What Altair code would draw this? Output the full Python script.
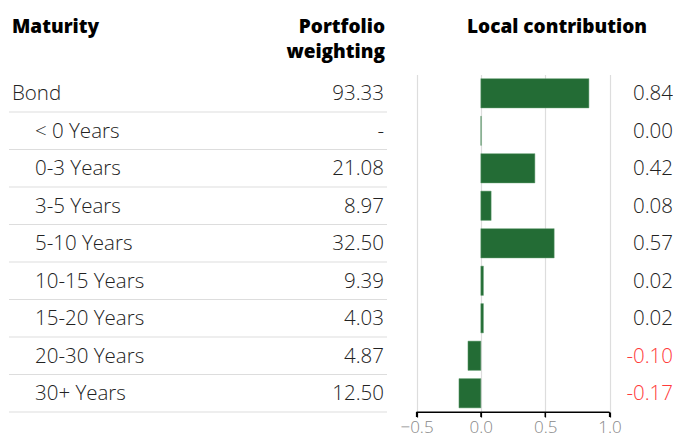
import altair as alt
import pandas as pd

maturity = ["Bond", "< 0 Years", "0-3 Years", "3-5 Years", "5-10 Years",
            "10-15 Years", "15-20 Years", "20-30 Years", "30+ Years"]
level = [0, 1, 1, 1, 1, 1, 1, 1, 1]
weighting = [93.33, None, 21.08, 8.97, 32.50, 9.39, 4.03, 4.87, 12.50]
contribution = [0.84, 0.003, 0.42, 0.08, 0.57, 0.02, 0.02, -0.10, -0.17]
contribution_labels = ["0.84", "0.00", "0.42", "0.08", "0.57", "0.02", "0.02", "-0.10", "-0.17"]
x_ticks = [-0.5, 0.0, 0.5, 1.0]

df = pd.DataFrame({
    "maturity": maturity,
    "level": level,
    "weight_label": ["-" if w is None else f"{w:.2f}" for w in weighting],
    "contribution": contribution,
    "contrib_label": contribution_labels,
    "neg": [c < 0 for c in contribution],
})
ticks_df = pd.DataFrame({"tick": x_ticks})

FONT = "Open Sans"
FS = 20.5
W, H = 665, 337.5
STEP = H / 9
TXT = "#222222"

x_scale = alt.Scale(domain=[-0.5, 1.0], range=[408.5, 601.5], nice=False, zero=False)

y_enc = alt.Y("maturity:N", sort=maturity, axis=None,
              scale=alt.Scale(paddingInner=0.22, paddingOuter=0.11))

base = alt.Chart(df)

sep = base.mark_rule(color="#dddddd", strokeWidth=1, yOffset=STEP / 2).encode(
    y=y_enc, x=alt.value(1), x2=alt.value(379))

lab_top = base.transform_filter("datum.level == 0").mark_text(
    align="left", baseline="middle", font=FONT, fontSize=FS, fontWeight=300,
    color=TXT, dy=1).encode(y=y_enc, x=alt.value(4), text="maturity:N")

lab_sub = base.transform_filter("datum.level == 1").mark_text(
    align="left", baseline="middle", font=FONT, fontSize=FS, fontWeight=300,
    color=TXT, dy=1).encode(y=y_enc, x=alt.value(27), text="maturity:N")

weights = base.mark_text(
    align="right", baseline="middle", font=FONT, fontSize=FS, fontWeight=300,
    color=TXT, dy=1).encode(y=y_enc, x=alt.value(376), text="weight_label:N")

bars = base.mark_bar(color="#236c35", stroke="#5f9a6c", strokeWidth=0.5).encode(
    y=y_enc,
    x=alt.X("contribution:Q", scale=x_scale,
            axis=alt.Axis(values=x_ticks, format=".1f", title=None,
                          grid=True, gridColor="#dddddd", gridWidth=1.2,
                          domain=True, domainColor="#000000", domainWidth=1.2,
                          ticks=True, tickColor="#000000", tickSize=5, tickWidth=1.2,
                          labelColor="#888888", labelFont=FONT, labelFontSize=17,
                          labelFontWeight=300, labelPadding=2, labelFlush=False)),
    x2=alt.datum(0),
)

# explicit axis line and ticks
axis_line = alt.Chart(pd.DataFrame({"a": [x_ticks[0]], "b": [x_ticks[-1]]})).mark_rule(
    color="#000000", strokeWidth=1.2).encode(
    x=alt.X("a:Q", scale=x_scale), x2="b:Q", y=alt.value(H))
tick_marks = alt.Chart(ticks_df).mark_rule(color="#000000", strokeWidth=1.2).encode(
    x=alt.X("tick:Q", scale=x_scale), y=alt.value(H), y2=alt.value(H + 5))

contrib = base.mark_text(
    align="right", baseline="middle", font=FONT, fontSize=FS, fontWeight=300, dy=1).encode(
    y=y_enc, x=alt.value(665), text="contrib_label:N",
    color=alt.Color("neg:N", scale=alt.Scale(domain=[False, True], range=[TXT, "#ff3b3b"]),
                    legend=None))

header_style = dict(font=FONT, fontSize=19, fontWeight=800, color="#000000", baseline="middle")
h1 = alt.Chart(pd.DataFrame({"t": ["Maturity"]})).mark_text(align="left", **header_style).encode(
    x=alt.value(4), y=alt.value(-47.5), text="t:N")
h2 = alt.Chart(pd.DataFrame({"t": ["Portfolio"]})).mark_text(align="right", **header_style).encode(
    x=alt.value(377), y=alt.value(-47.5), text="t:N")
h3 = alt.Chart(pd.DataFrame({"t": ["weighting"]})).mark_text(align="right", **header_style).encode(
    x=alt.value(377), y=alt.value(-22.5), text="t:N")
h4 = alt.Chart(pd.DataFrame({"t": ["Local contribution"]})).mark_text(align="center", **header_style).encode(
    x=alt.value(549), y=alt.value(-47.5), text="t:N")

chart = alt.layer(sep, lab_top, lab_sub, weights, bars, axis_line, tick_marks, contrib,
                  h1, h2, h3, h4).properties(
    width=W, height=H,
    background="white",
    autosize=alt.AutoSizeParams(type="none"),
    padding={"left": 0, "top": 66.5, "right": 0, "bottom": 26},
).configure_view(strokeWidth=0, stroke=None)

chart.save("out.html", embed_options={"renderer": "svg", "actions": False})
